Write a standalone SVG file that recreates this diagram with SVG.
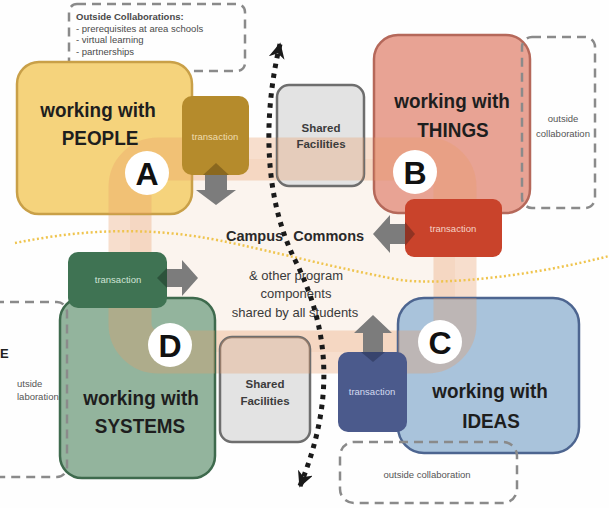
<svg xmlns="http://www.w3.org/2000/svg" xmlns:xlink="http://www.w3.org/1999/xlink" width="609" height="508" viewBox="0 0 609 508">
<style>
text{font-family:"Liberation Sans",Arial,sans-serif}
.h{font-size:21px;font-weight:bold;fill:#1e1e1e;text-anchor:middle}
.let{font-size:32px;font-weight:bold;fill:#111;text-anchor:middle}
.circ{fill:#fff}
.tr{font-size:9.5px;text-anchor:middle}
.sf{fill:#e3e3e3;stroke:#6e6e6e;stroke-width:2.5}
.sft{font-size:11.5px;font-weight:bold;fill:#3c3c3c;text-anchor:middle}
.dash{fill:none;stroke:#8a8a8a;stroke-width:2.5;stroke-dasharray:9 6}
.oc{font-size:9.5px;fill:#555}
.band{fill:none;stroke:#e89a66;stroke-opacity:0.32;stroke-width:43}
.garrow{fill:#7c7c7c}
.mid{font-size:13px;fill:#3a3a3a;text-anchor:middle}
</style>
<defs>
<rect id="bandpath" x="130" y="159" width="325" height="193" rx="28"/>
<clipPath id="cA"><rect x="17" y="62" width="175" height="152" rx="22"/></clipPath>
<clipPath id="cB"><rect x="374" y="35" width="156" height="178" rx="24"/></clipPath>
<clipPath id="cC"><rect x="398" y="298" width="181" height="155" rx="26"/></clipPath>
<clipPath id="cD"><rect x="60" y="298" width="155" height="180" rx="22"/></clipPath>
<clipPath id="cS1"><rect x="277" y="85" width="87" height="101" rx="12"/></clipPath>
<clipPath id="cS2"><rect x="220" y="337" width="90" height="105" rx="12"/></clipPath>
<marker id="chev" viewBox="0 0 10 10" refX="9" refY="5" markerWidth="16" markerHeight="16" markerUnits="userSpaceOnUse" orient="auto-start-reverse">
<path d="M0,0 L10,5 L0,10 L3,5 z" fill="#1a1a1a"/>
</marker>
</defs>
<rect x="0" y="0" width="609" height="508" fill="#fefefe"/>
<rect x="130" y="159" width="325" height="193" rx="28" fill="#fbf4ee"/>
<use xlink:href="#bandpath" class="band"/>

<g id="outside-top">
<rect x="69" y="4" width="176" height="67" rx="8" class="dash"/>
</g>

<g id="nodeA">
<rect x="17" y="62" width="175" height="152" rx="22" fill="#f5d37c" stroke="#c9a048" stroke-width="2.5"/>
<use xlink:href="#bandpath" class="band" clip-path="url(#cA)"/>
<text class="h" transform="translate(98 117) scale(0.9 1)">working with</text>
<text class="h" transform="translate(100 145) scale(0.9 1)">PEOPLE</text>
<circle class="circ" cx="147" cy="173" r="22"/>
<text class="let" x="147" y="184.5">A</text>
</g>

<g id="nodeB">
<rect x="374" y="35" width="156" height="178" rx="24" fill="#e8a394" stroke="#b5685a" stroke-width="2.5"/>
<use xlink:href="#bandpath" class="band" clip-path="url(#cB)"/>
<text class="h" transform="translate(452 108) scale(0.9 1)">working with</text>
<text class="h" transform="translate(453 137) scale(0.9 1)">THINGS</text>
<circle class="circ" cx="415" cy="172" r="22"/>
<text class="let" x="415" y="183.5">B</text>
</g>

<g id="nodeC">
<rect x="398" y="298" width="181" height="155" rx="26" fill="#a9c3db" stroke="#4d6590" stroke-width="2.5"/>
<use xlink:href="#bandpath" class="band" clip-path="url(#cC)"/>
<text class="h" transform="translate(490 398) scale(0.9 1)">working with</text>
<text class="h" transform="translate(491 428) scale(0.9 1)">IDEAS</text>
<circle class="circ" cx="440" cy="342" r="22"/>
<text class="let" x="440" y="353.5">C</text>
</g>

<g id="nodeD">
<rect x="60" y="298" width="155" height="180" rx="22" fill="#93b49d" stroke="#3e6a4d" stroke-width="2.5"/>
<use xlink:href="#bandpath" class="band" clip-path="url(#cD)"/>
<text class="h" transform="translate(141 405) scale(0.9 1)">working with</text>
<text class="h" transform="translate(140 433) scale(0.9 1)">SYSTEMS</text>
<circle class="circ" cx="170" cy="345" r="22"/>
<text class="let" x="170" y="356.5">D</text>
</g>

<g id="shared-top">
<rect class="sf" x="277" y="85" width="87" height="101" rx="12"/>
<use xlink:href="#bandpath" class="band" clip-path="url(#cS1)"/>
<text class="sft" x="321" y="132">Shared</text>
<text class="sft" x="321" y="148">Facilities</text>
</g>

<g id="shared-bottom">
<rect class="sf" x="220" y="337" width="90" height="105" rx="12"/>
<use xlink:href="#bandpath" class="band" clip-path="url(#cS2)"/>
<text class="sft" x="265" y="388">Shared</text>
<text class="sft" x="265" y="405">Facilities</text>
</g>

<g id="outside-B">
<rect x="522" y="37" width="73" height="171" rx="10" class="dash"/>
<text class="oc" x="563" y="122" text-anchor="middle">outside</text>
<text class="oc" x="563" y="137" text-anchor="middle">collaboration</text>
</g>

<g id="outside-D">
<rect x="-30" y="302" width="97" height="175" rx="10" class="dash"/>
<text class="oc" x="17" y="387">utside</text>
<text class="oc" x="17" y="400">laboration</text>
</g>

<g id="outside-C">
<rect x="340" y="442" width="177" height="61" rx="14" class="dash"/>
<text class="oc" x="427" y="478" text-anchor="middle" font-size="11">outside collaboration</text>
</g>

<g id="outside-top-text" fill="#4a4a4a" font-size="9.5">
<text x="76" y="20" font-weight="bold">Outside Collaborations:</text>
<text x="76" y="31.5">- prerequisites at area schools</text>
<text x="76" y="43">- virtual learning</text>
<text x="76" y="54.5">- partnerships</text>
</g>

<text x="0" y="358" font-size="13" font-weight="bold" fill="#222">E</text>

<path d="M15,243 C70,232 130,226 200,237 C250,245 320,265 400,280 C450,286 540,274 609,256" fill="none" stroke="#efc44e" stroke-width="2.5" stroke-dasharray="2 2.5"/>

<g id="transA">
<rect x="182" y="96" width="67" height="79" rx="10" fill="#b58b2c"/>
<path d="M203,175 L216,163 L229,175 z" fill="#6e5218" opacity="0.6"/>
<text class="tr" x="215" y="140" fill="#efdcae">transaction</text>
</g>
<g id="transB">
<rect x="405" y="199" width="97" height="58" rx="9" fill="#c9432b"/>
<path d="M405,222 L415,234 L405,246 z" fill="#6a2a1e" opacity="0.6"/>
<text class="tr" x="453" y="232" fill="#f5d2c6">transaction</text>
</g>
<g id="transC">
<rect x="338" y="352" width="69" height="80" rx="10" fill="#4b5a8c"/>
<path d="M361,352 L373,362 L385,352 z" fill="#2c3558" opacity="0.6"/>
<text class="tr" x="372" y="395" fill="#d3daf0">transaction</text>
</g>
<g id="transD">
<rect x="68" y="252" width="99" height="56" rx="10" fill="#3f7353"/>
<path d="M167,268 L157,278 L167,288 z" fill="#1f3d2b" opacity="0.6"/>
<text class="tr" x="118" y="283" fill="#cfe4d6">transaction</text>
</g>

<g id="center-text">
<text x="295" y="241" font-size="14.5" font-weight="bold" fill="#2a2a2a" text-anchor="middle" word-spacing="6">Campus Commons</text>
<text class="mid" x="296" y="280">&amp; other program</text>
<text class="mid" x="296" y="298">components</text>
<text class="mid" x="295" y="317">shared by all students</text>
</g>

<g id="connectors">
<polygon class="garrow" points="205,175 227,175 227,190 236,190 216,205 196,190 205,190"/>
<polygon class="garrow" points="405,224 390,224 390,215 373,234 390,253 390,244 405,244"/>
<polygon class="garrow" points="167,269 182,269 182,260 198,278 182,296 182,287 167,287"/>
<polygon class="garrow" points="363,352 363,333 354,333 373,315 392,333 383,333 383,352"/>
<path d="M300,486 C335,400 330,330 295,260 C265,200 262,120 280,44" fill="none" stroke="#1a1a1a" stroke-width="5" stroke-dasharray="4.5 5.5" marker-start="url(#chev)" marker-end="url(#chev)"/>
</g>
</svg>
